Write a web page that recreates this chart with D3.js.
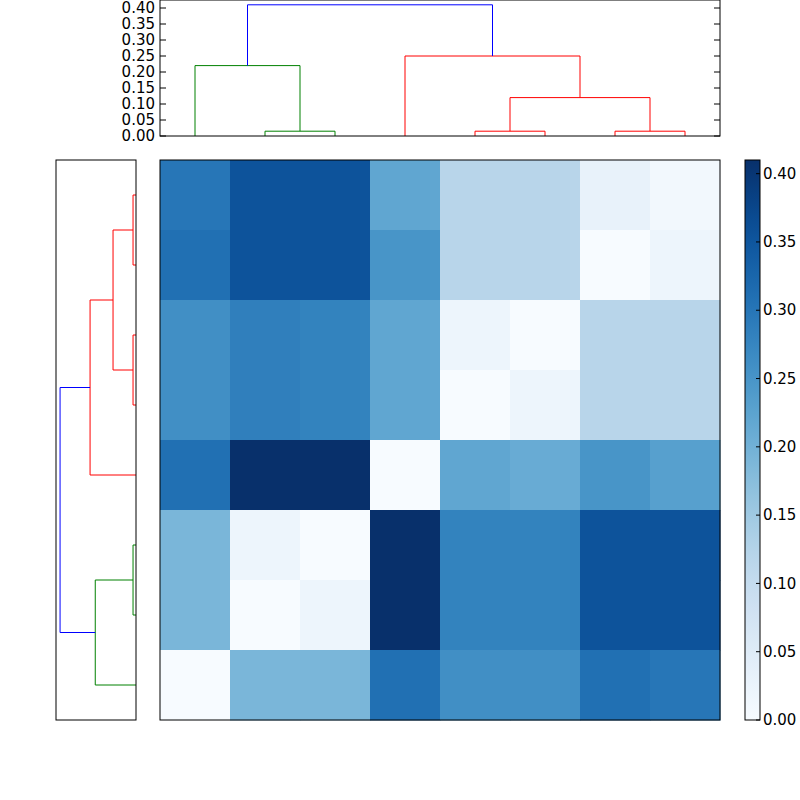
<!DOCTYPE html>
<html><head><meta charset="utf-8">
<script src="https://cdn.jsdelivr.net/npm/d3@7"></script>
<style>body{margin:0;background:#fff}</style>
</head><body>
<script>
// Heatmap values (rows top to bottom)
const matrix = [
  [0.30, 0.355, 0.355, 0.22, 0.12, 0.12, 0.03, 0.01],
  [0.31, 0.355, 0.355, 0.25, 0.12, 0.12, 0.00, 0.02],
  [0.26, 0.285, 0.28, 0.22, 0.02, 0.00, 0.12, 0.12],
  [0.26, 0.285, 0.28, 0.22, 0.00, 0.02, 0.12, 0.12],
  [0.31, 0.41, 0.41, 0.00, 0.22, 0.21, 0.25, 0.23],
  [0.19, 0.02, 0.00, 0.41, 0.28, 0.28, 0.355, 0.355],
  [0.19, 0.00, 0.02, 0.41, 0.28, 0.28, 0.355, 0.355],
  [0.00, 0.19, 0.19, 0.31, 0.26, 0.26, 0.31, 0.30]
];
// Dendrogram merges: a, b = positions in leaf units, ha/hb = child heights, h = merge height
const topLinks = [
  {a: 1, b: 2, ha: 0, hb: 0, h: 0.015, c: "green"},
  {a: 0, b: 1.5, ha: 0, hb: 0.015, h: 0.22, c: "green"},
  {a: 4, b: 5, ha: 0, hb: 0, h: 0.015, c: "red"},
  {a: 6, b: 7, ha: 0, hb: 0, h: 0.015, c: "red"},
  {a: 4.5, b: 6.5, ha: 0.015, hb: 0.015, h: 0.12, c: "red"},
  {a: 3, b: 5.5, ha: 0, hb: 0.12, h: 0.25, c: "red"},
  {a: 0.75, b: 4.25, ha: 0.22, hb: 0.25, h: 0.41, c: "blue"}
];
const leftLinks = [
  {a: 0, b: 1, ha: 0, hb: 0, h: 0.016, c: "red"},
  {a: 2, b: 3, ha: 0, hb: 0, h: 0.016, c: "red"},
  {a: 0.5, b: 2.5, ha: 0.016, hb: 0.016, h: 0.124, c: "red"},
  {a: 1.5, b: 4, ha: 0.124, hb: 0, h: 0.248, c: "red"},
  {a: 5, b: 6, ha: 0, hb: 0, h: 0.016, c: "green"},
  {a: 5.5, b: 7, ha: 0.016, hb: 0, h: 0.22, c: "green"},
  {a: 2.75, b: 6.25, ha: 0.248, hb: 0.22, h: 0.41, c: "blue"}
];
const topTicks = [0, 0.05, 0.10, 0.15, 0.20, 0.25, 0.30, 0.35, 0.40];
const cbTicks = [0, 0.05, 0.10, 0.15, 0.20, 0.25, 0.30, 0.35, 0.40];
const vmax = 0.41;

const svg = d3.select("body").append("svg").attr("width", 800).attr("height", 800)
  .style("font-family", "DejaVu Sans").style("font-size", "15px");

const n = 8;
const hx = d3.scaleLinear().domain([0, n]).range([160, 720]);
const hy = d3.scaleLinear().domain([0, n]).range([160, 720]);
const color = v => d3.interpolateBlues(v / vmax);

// heatmap
matrix.forEach((row, i) => row.forEach((v, j) => {
  svg.append("rect").attr("x", hx(j)).attr("y", hy(i))
    .attr("width", hx(1) - hx(0) + 0.5).attr("height", hy(1) - hy(0) + 0.5)
    .attr("fill", color(v));
}));
svg.append("rect").attr("x", 160).attr("y", 160).attr("width", 560).attr("height", 560)
  .attr("fill", "none").attr("stroke", "#000");

// top dendrogram
const ty = d3.scaleLinear().domain([0, 0.425]).range([136, 0]);
const tx = v => hx(v + 0.5);
const topG = svg.append("g");
topLinks.forEach(l => {
  topG.append("path").attr("fill", "none").attr("stroke", l.c)
    .attr("d", `M${tx(l.a)},${ty(l.ha)}V${ty(l.h)}H${tx(l.b)}V${ty(l.hb)}`);
});
topG.append("rect").attr("x", 160).attr("y", 0).attr("width", 560).attr("height", 136)
  .attr("fill", "none").attr("stroke", "#000");
topTicks.forEach(t => {
  topG.append("line").attr("x1", 160).attr("x2", 166).attr("y1", ty(t)).attr("y2", ty(t)).attr("stroke", "#000");
  topG.append("line").attr("x1", 714).attr("x2", 720).attr("y1", ty(t)).attr("y2", ty(t)).attr("stroke", "#000");
  topG.append("text").attr("x", 155).attr("y", ty(t)).attr("dy", "0.35em")
    .attr("text-anchor", "end").text(t.toFixed(2));
});

// left dendrogram
const lx = d3.scaleLinear().domain([0, 0.432]).range([136, 56]);
const ly = v => hy(v + 0.5);
const leftG = svg.append("g");
leftLinks.forEach(l => {
  leftG.append("path").attr("fill", "none").attr("stroke", l.c)
    .attr("d", `M${lx(l.ha)},${ly(l.a)}H${lx(l.h)}V${ly(l.b)}H${lx(l.hb)}`);
});
leftG.append("rect").attr("x", 56).attr("y", 160).attr("width", 80).attr("height", 560)
  .attr("fill", "none").attr("stroke", "#000");

// colorbar
const cy = d3.scaleLinear().domain([0, vmax]).range([720, 160]);
const defs = svg.append("defs");
const grad = defs.append("linearGradient").attr("id", "cb").attr("x1", 0).attr("y1", 1).attr("x2", 0).attr("y2", 0);
d3.range(0, 1.0001, 0.05).forEach(t => grad.append("stop").attr("offset", t).attr("stop-color", d3.interpolateBlues(t)));
svg.append("rect").attr("x", 745).attr("y", 160).attr("width", 15).attr("height", 560)
  .attr("fill", "url(#cb)").attr("stroke", "#000");
cbTicks.forEach(t => {
  svg.append("line").attr("x1", 756).attr("x2", 760).attr("y1", cy(t)).attr("y2", cy(t)).attr("stroke", "#000");
  svg.append("text").attr("x", 763).attr("y", cy(t)).attr("dy", "0.35em").text(t.toFixed(2));
});
</script>
</body></html>
